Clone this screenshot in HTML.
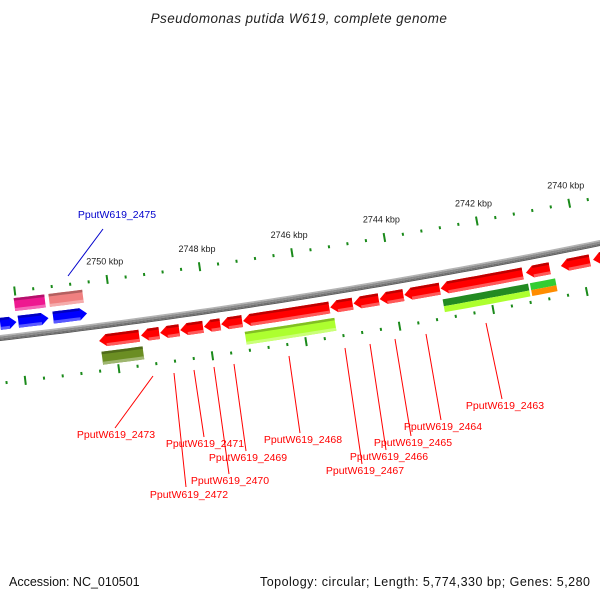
<!DOCTYPE html>
<html><head><meta charset="utf-8"><style>
html,body{margin:0;padding:0;background:#fff;}
svg{display:block;font-family:"Liberation Sans",sans-serif;}
</style></head><body>
<svg id="map" width="600" height="600" viewBox="0 0 600 600">
<text x="299" y="23" text-anchor="middle" font-size="13.5" font-style="italic" fill="#222" letter-spacing="0.4">Pseudomonas putida W619, complete genome</text>
<g id="ticks"></g>
<g id="backbone"></g>
<g id="genes"></g>
<g id="labels"></g>
<text x="9" y="586" font-size="12.5" fill="#111">Accession: NC_010501</text>
<text x="590" y="586" text-anchor="end" font-size="12.5" fill="#111" textLength="330">Topology: circular; Length: 5,774,330 bp; Genes: 5,280</text>
</svg>
<script>
// gene data (kbp)
const geneStart = [2752.39,2752.0,2751.25,2752.04,2751.29,
  2749.48,2749.05,2748.62,2748.11,2747.74,2747.27,2745.40,2744.90,2744.34,2743.81,2743.03,2741.25,2740.67,2739.81,2738.99,
  2749.44,2745.33,2741.18,2741.18,2740.60,2740.60];
const geneEnd = [2752.04,2751.35,2750.52,2751.38,2750.56,
  2750.34,2749.44,2749.03,2748.60,2748.09,2747.72,2747.25,2745.38,2744.88,2744.32,2743.79,2743.01,2741.18,2740.43,2739.74,
  2750.32,2747.25,2743.01,2743.01,2741.14,2741.14];
const geneTrack = ['top','top','top','topbox','topbox',
  'rev','rev','rev','rev','rev','rev','rev','rev','rev','rev','rev','rev','rev','rev','rev',
  'row2','row2','row2a','row2b','row2a','row2b'];
const geneColor = ['#0000ff','#0000ff','#0000ff','#ee1890','#f08080',
  '#ff0000','#ff0000','#ff0000','#ff0000','#ff0000','#ff0000','#ff0000','#ff0000','#ff0000','#ff0000','#ff0000','#ff0000','#ff0000','#ff0000','#ff0000',
  '#6b8e23','#adff2f','#228b22','#adff2f','#32cd32','#ff8c00'];
const kbpLabels = [2750,2748,2746,2744,2742,2740];
const tickMin = 2738.8, tickMax = 2752.8, tickStep = 0.4;
// annotation labels
const labelText = ['PputW619_2475','PputW619_2473','PputW619_2472','PputW619_2471','PputW619_2470','PputW619_2469','PputW619_2468','PputW619_2467','PputW619_2466','PputW619_2465','PputW619_2464','PputW619_2463'];
const labelColor = ['#0000cc','#f00','#f00','#f00','#f00','#f00','#f00','#f00','#f00','#f00','#f00','#f00'];

const NS='http://www.w3.org/2000/svg';
function mk(tag,attrs,parent){const e=document.createElementNS(NS,tag);for(const k in attrs)e.setAttribute(k,attrs[k]);parent.appendChild(e);return e;}
function kx(k){return 20+(2752-k)*46.5;}
function by(b){const t=b/600;return (1-t)*(1-t)*338+2*t*(1-t)*303.5+t*t*243;}
function bd(b){const t=b/600;return (2*(1-t)*(303.5-338)+2*t*(243-303.5))/600;}
function P(b,d){const s=bd(b);const n=Math.sqrt(1+s*s);return [b+d*(-s)/n, by(b)+d/n];}
function pts(a){return a.map(p=>p[0].toFixed(2)+','+p[1].toFixed(2)).join(' ');}
function band(d0,d1){let a=[],c=[];for(let b=-10;b<=610;b+=10)a.push(P(b,d0));for(let b=610;b>=-10;b-=10)c.push(P(b,d1));return pts(a.concat(c));}

// backbone
const bb=document.getElementById('backbone');
const bands=[[-3,-1.5,'#b4b4b4'],[-1.5,0.5,'#8c8c8c'],[0.5,2,'#707070'],[2,3,'#5a5a5a']];
bands.forEach(q=>{const e=mk('polygon',{points:band(q[0],q[1]),fill:q[2]},bb);
  
  });

// ticks
const tg=document.getElementById('ticks');
for(let i=0;;i++){const k=tickMin+i*tickStep;if(k>tickMax+1e-6)break;
  const b=kx(k);const major=Math.abs(k/2-Math.round(k/2))<1e-3;const L=major?4.5:1.5;
  for(const d of [-45,45]){const a=P(b,d-L),c=P(b,d+L);
    const ln=mk('line',{x1:a[0],y1:a[1],x2:c[0],y2:c[1],stroke:'#1a8a1a','stroke-width':2},tg);
    
    }
}
kbpLabels.forEach(k=>{const p=P(kx(k),-63);
  const t=mk('text',{x:p[0],y:p[1]+3,'text-anchor':'middle','font-size':9,fill:'#222'},tg);
  t.textContent=k+' kbp';
  
  });

// genes
const gg=document.getElementById('genes');
const trackD={top:[-20,-8],topbox:[-38,-25],rev:[9,21],row2:[26,39],row2a:[26,33],row2b:[33,39]};
function shade(c,f){const n=parseInt(c.slice(1),16);let r=n>>16,g=(n>>8)&255,b=n&255;
  if(f<0){r*=1+f;g*=1+f;b*=1+f;}else{r+=(255-r)*f;g+=(255-g)*f;b+=(255-b)*f;}
  return 'rgb('+Math.round(r)+','+Math.round(g)+','+Math.round(b)+')';}
for(let i=0;i<geneStart.length;i++){
  const tr=geneTrack[i];const [d0,d1]=trackD[tr];
  let b1=kx(geneStart[i]),b2=kx(geneEnd[i]);if(b1>b2){const q=b1;b1=b2;b2=q;}
  const arrow=(tr==='top')?'right':(tr==='rev'?'left':null);
  const head=Math.min(7,(b2-b1)*0.5);
  let r1=b1,r2=b2;if(arrow==='left')r1=b1+head;if(arrow==='right')r2=b2-head;
  const seg=(a,c,d)=>{const o=[];const n=Math.max(2,Math.ceil((c-a)/8));for(let j=0;j<=n;j++)o.push(P(a+(c-a)*j/n,d));return o;};
  let poly=seg(r1,r2,d0);
  if(arrow==='right')poly.push(P(b2,(d0+d1)/2));
  poly=poly.concat(seg(r1,r2,d1).reverse());
  if(arrow==='left')poly.push(P(b1,(d0+d1)/2));
  const g=mk('g',{},gg);
  
  
  mk('polygon',{points:pts(poly),fill:geneColor[i]},g);
  const h=d1-d0;
  if(h>8){
    mk('polygon',{points:pts(seg(r1,r2,d0).concat(seg(r1,r2,d0+2.5).reverse())),fill:shade(geneColor[i],-0.25)},g);
    mk('polygon',{points:pts(seg(r1,r2,d1-3).concat(seg(r1,r2,d1).reverse())),fill:shade(geneColor[i],0.35)},g);
  }
}

// label annotations (layout positions)
const lg=document.getElementById('labels');
const lay=[[68,276,103,229,117,218],[153,376,115,428,116,438],[174,373,186,487,189,498],[194,370,204,437,205,447],[214,367,229,474,230,484],[234,364,246,451,248,461],[289,356,300,433,303,443],[345,348,362,464,365,474],[370,344,386,450,389,460],[395,339,411,436,413,446],[426,334,441,420,443,430],[486,323,502,399,505,409]];
labelText.forEach((s,i)=>{const L=lay[i];
  const l=mk('line',{x1:L[0],y1:L[1],x2:L[2],y2:L[3],stroke:labelColor[i],'stroke-width':1},lg);
  
  
  const t=mk('text',{x:L[4],y:L[5],'text-anchor':'middle','font-size':10.5,fill:labelColor[i]},lg);
  t.textContent=s;
  
  });
</script>
</body></html>
